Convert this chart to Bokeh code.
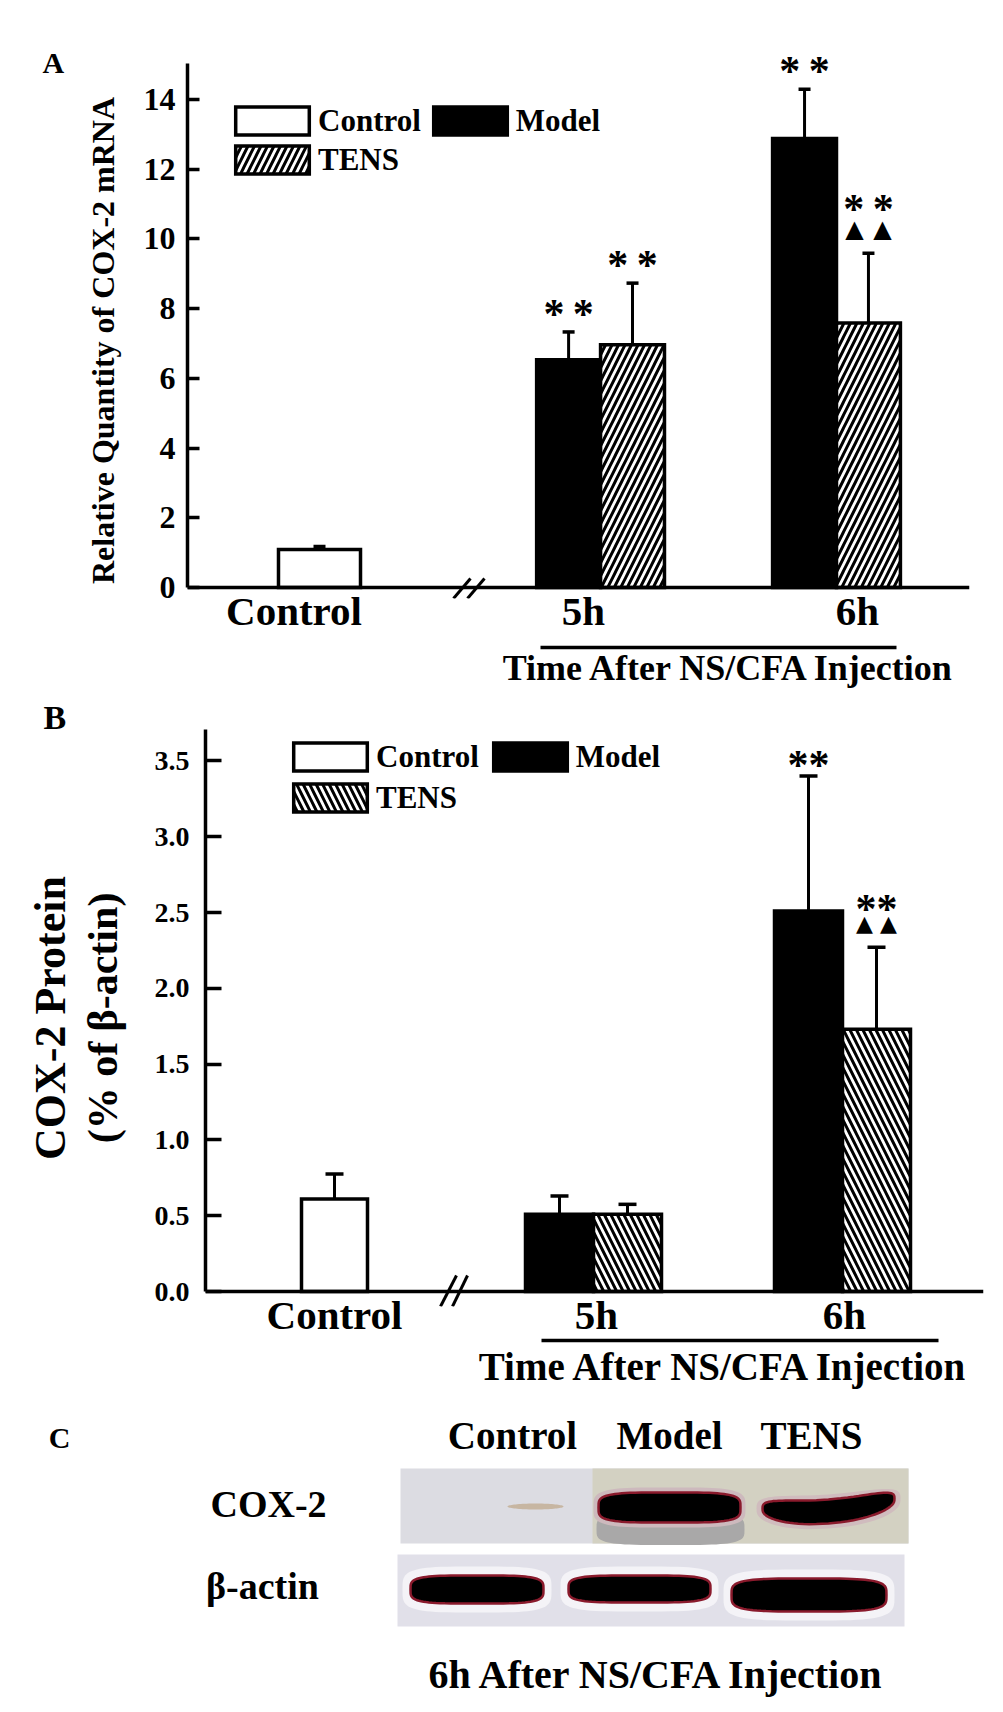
import numpy as np
from bokeh.plotting import figure
from bokeh.models import (Range1d, FixedTicker, PrintfTickFormatter, BasicTickFormatter, Label,
                          Legend, LegendItem, Whisker, TeeHead, ColumnDataSource, Span, LinearAxis)
from bokeh.embed import file_html
from bokeh.resources import INLINE
from bokeh.core.properties import value

# ---------------- data ----------------
groups = ["Control", "5h", "6h"]
series = ["Control", "Model", "TENS"]

# Panel A: relative quantity of COX-2 mRNA (Control; Model/TENS at 5h, 6h)
mrna_control = [1.09]
mrna_control_err = [0.09]
mrna_model = [6.53, 12.88]
mrna_model_err = [0.80, 1.41]
mrna_tens = [6.96, 7.59]
mrna_tens_err = [1.77, 2.00]
mrna_ticks = [0, 2, 4, 6, 8, 10, 12, 14]
mrna_model_sig = ["*\u2009*", "*\u2009*"]
mrna_tens_sig = ["*\u2009*", "*\u2009*"]
mrna_tens_tri = [False, True]

# Panel B: COX-2 protein (% of beta-actin)
prot_control = [0.61]
prot_control_err = [0.165]
prot_model = [0.51, 2.51]
prot_model_err = [0.12, 0.89]
prot_tens = [0.51, 1.73]
prot_tens_err = [0.065, 0.54]
prot_ticks = [0.0, 0.5, 1.0, 1.5, 2.0, 2.5, 3.0, 3.5]
prot_model_sig = ["", "**"]
prot_tens_sig = ["", "**"]
prot_tens_tri = [False, True]

# Panel C: western blot
blot_lanes = ["Control", "Model", "TENS"]
blot_rows = ["COX-2", "\u03b2-actin"]

x_title = "Time After NS/CFA Injection"
FONT = "Liberation Serif"
W = 1003

# ---------------- layout constants (page pixels) ----------------
cfgA = dict(letter="A", letter_font="30px", letter_offset=-145, letter_standoff=-57,
            page_top=0, height=690, frame=(187, 969, 50, 599), axis_top=63, y0_page=588,
            xunit=235.0, yunit=34.93, x0=-0.5617,
            group_pos=[0.0, 1.196, 2.2], label_pos=[-0.1085, 1.123, 2.289], bar_w=0.272, ctrl_w=0.349,
            lw=3.5, tick_in=12, tick_font="32px", tick_standoff=12,
            xlab_font="41px", xlab_standoff=-11, xlab_spacer=7,
            ytitles=[("Relative Quantity of COX-2 mRNA\u2003", "32px", 20, (599, 63))],
            time_font="36px", time_standoff=0, time_x=729, time_line=(540, 896),
            breaks=[((453, 599), (470, 579)), ((467, 599), (484, 579))],
            hatch="right_diagonal_line", hatch_w=3, hatch_s=13, cap=12,
            sig_font="42px", sig_off=-18, sig_off_stack=-44, tri_font="24px", tri_off=-24, tri_dx=14,
            legend_loc=(39, 420.5), legend_spacing=3)
cfgB = dict(letter="B", letter_font="34px", letter_offset=-162, letter_standoff=-13,
            page_top=690, height=710, frame=(205, 983, 729, 1306), axis_top=729, y0_page=1291,
            xunit=250.0, yunit=151.6, x0=-0.516,
            group_pos=[0.0, 1.036, 2.032], label_pos=[0.0, 1.048, 2.04], bar_w=0.272, ctrl_w=0.264,
            lw=3.5, tick_in=16, tick_font="28px", tick_standoff=16,
            xlab_font="41px", xlab_standoff=-15, xlab_spacer=None,
            ytitles=[("(% of \u03b2-actin)", "42px", 26, None), ("COX-2 Protein", "44px", 2, None)],
            time_font="39px", time_standoff=4, time_x=724, time_line=(541, 938),
            breaks=[((440, 1306), (456, 1275)), ((452, 1306), (467, 1275))],
            hatch="left_diagonal_line", hatch_w=3, hatch_s=13, cap=18,
            sig_font="42px", sig_off=-11, sig_off_stack=-38, tri_font="22px", tri_off=-24, tri_dx=12,
            legend_loc=(79, 490.5), legend_spacing=5)


def dx(cfg, px):
    return cfg["x0"] + (px - cfg["frame"][0]) / cfg["xunit"]


def dy(cfg, py):
    return (cfg["y0_page"] - py) / cfg["yunit"]


def style_axis_text(ax):
    ax.major_label_text_font = FONT
    ax.major_label_text_font_style = "bold"
    ax.major_label_text_color = "black"
    ax.axis_label_text_font = FONT
    ax.axis_label_text_font_style = "bold"
    ax.axis_label_text_color = "black"


def make_bar_panel(cfg, ctrl, ctrl_err, model, model_err, tens, tens_err, ticks, fmt,
                   model_sig, tens_sig, tens_tri):
    fl, fr, ft, fb = cfg["frame"]
    top, H = cfg["page_top"], cfg["height"]
    y_lo, y_hi = dy(cfg, fb), dy(cfg, ft)
    y_axis_top = dy(cfg, cfg["axis_top"])
    p = figure(width=W, height=H, output_backend="svg", toolbar_location=None,
               x_range=Range1d(dx(cfg, fl), dx(cfg, fr)), y_range=Range1d(y_lo, y_hi),
               min_border_left=fl, min_border_right=W - fr,
               min_border_top=ft - top, min_border_bottom=top + H - fb,
               title=cfg["letter"])
    p.xgrid.visible = False
    p.ygrid.visible = False
    p.outline_line_color = None
    p.background_fill_color = "white"
    p.border_fill_color = "white"
    p.title.align = "left"
    p.title.offset = cfg["letter_offset"]
    p.title.standoff = cfg["letter_standoff"]
    p.title.text_font = FONT
    p.title.text_font_style = "bold"
    p.title.text_font_size = cfg["letter_font"]
    p.title.text_color = "black"

    gpos = cfg["group_pos"]
    bw, cw = cfg["bar_w"], cfg["ctrl_w"]
    model_x = [g - bw / 2 for g in gpos[1:]]
    tens_x = [g + bw / 2 for g in gpos[1:]]
    lw = cfg["lw"]

    # x-axis line at zero
    p.add_layout(Span(location=0, dimension="width", line_color="black", line_width=lw))

    r_ctrl = p.vbar(x=[gpos[0]], top=ctrl, width=cw, fill_color="white", line_color="black",
                    line_width=lw, line_join="miter")
    r_model = p.vbar(x=model_x, top=model, width=bw, fill_color="black", line_color="black",
                     line_width=lw, line_join="miter")
    r_tens = p.vbar(x=tens_x, top=tens, width=bw, fill_color="white", line_color="black",
                    line_width=lw, line_join="miter", hatch_pattern=cfg["hatch"], hatch_color="black",
                    hatch_weight=cfg["hatch_w"], hatch_scale=cfg["hatch_s"])

    # axis break marks
    for (a, b) in cfg["breaks"]:
        p.segment(x0=[dx(cfg, a[0])], y0=[dy(cfg, a[1])], x1=[dx(cfg, b[0])], y1=[dy(cfg, b[1])],
                  line_color="black", line_width=3)

    # error bars (upper only)
    wx = [gpos[0]] + model_x + tens_x
    lower = list(ctrl) + list(model) + list(tens)
    errs = list(ctrl_err) + list(model_err) + list(tens_err)
    upper = [v + e for v, e in zip(lower, errs)]
    wsrc = ColumnDataSource(dict(x=wx, lower=lower, upper=upper))
    p.add_layout(Whisker(source=wsrc, base="x", lower="lower", upper="upper", dimension="height",
                         line_width=3, line_color="black", lower_head=None,
                         upper_head=TeeHead(size=cfg["cap"], line_width=3.5, line_color="black"),
                         level="glyph"))

    # significance marks
    n = len(model)
    sx, sy, st, so = [], [], [], []
    for i in range(n):
        if model_sig[i]:
            sx.append(model_x[i]); sy.append(model[i] + model_err[i]); st.append(model_sig[i])
            so.append(cfg["sig_off"])
        if tens_sig[i]:
            sx.append(tens_x[i]); sy.append(tens[i] + tens_err[i]); st.append(tens_sig[i])
            so.append(cfg["sig_off_stack"] if tens_tri[i] else cfg["sig_off"])
    ssrc = ColumnDataSource(dict(x=sx, y=sy, text=st, yo=so))
    p.text(x="x", y="y", text="text", y_offset="yo", source=ssrc, text_align="center",
           text_baseline="alphabetic", text_font=value(FONT), text_font_style="bold",
           text_font_size=cfg["sig_font"], text_color="black")
    tx = [tens_x[i] for i in range(n) if tens_tri[i]]
    ty = [tens[i] + tens_err[i] for i in range(n) if tens_tri[i]]
    for ox in (-cfg["tri_dx"], cfg["tri_dx"]):
        p.text(x=tx, y=ty, text=["\u25b2"] * len(tx), x_offset=ox, y_offset=cfg["tri_off"],
               text_align="center", text_baseline="alphabetic", text_font=value("DejaVu Sans"),
               text_font_size=cfg["tri_font"], text_color="black")

    # y axis
    yax = p.yaxis[0]
    yax.ticker = FixedTicker(ticks=ticks)
    yax.formatter = fmt
    yax.bounds = (0, y_axis_top)
    yax.major_tick_in = cfg["tick_in"]
    yax.major_tick_out = 0
    yax.minor_tick_line_color = None
    yax.axis_line_width = lw
    yax.major_tick_line_width = lw
    style_axis_text(yax)
    yax.major_label_text_font_size = cfg["tick_font"]
    yax.major_label_standoff = cfg["tick_standoff"]

    # y titles (inner one on the main axis, others on extra axes)
    for k, (txt, size, standoff, bnd) in enumerate(cfg["ytitles"]):
        if k == 0 and bnd is None:
            ax = yax
        else:
            ax = LinearAxis(ticker=FixedTicker(ticks=[]), axis_line_color=None,
                            major_tick_line_color=None, minor_tick_line_color=None,
                            major_tick_in=0, major_tick_out=0, major_label_standoff=0)
            ax.bounds = (dy(cfg, bnd[0]), dy(cfg, bnd[1])) if bnd else (0, y_axis_top)
            p.add_layout(ax, "left")
        style_axis_text(ax)
        ax.axis_label = txt
        ax.axis_label_text_font_size = size
        ax.axis_label_standoff = standoff

    # x axis (labels only; line drawn by the span at zero)
    xax = p.xaxis[0]
    xax.ticker = FixedTicker(ticks=cfg["label_pos"])
    xax.major_label_overrides = {pos: g for pos, g in zip(cfg["label_pos"], groups)}
    xax.axis_line_color = None
    xax.major_tick_line_color = None
    xax.minor_tick_line_color = None
    xax.major_tick_in = 0
    xax.major_tick_out = 0
    style_axis_text(xax)
    xax.major_label_text_font_size = cfg["xlab_font"]
    xax.major_label_standoff = cfg["xlab_standoff"]
    if cfg["xlab_spacer"] is not None:
        xax.axis_label = "\u00a0"
        xax.axis_label_text_font_size = "1px"
        xax.axis_label_standoff = cfg["xlab_spacer"]

    # time axis: underline + caption
    tpos = dx(cfg, cfg["time_x"])
    tax = LinearAxis(ticker=FixedTicker(ticks=[tpos]), major_label_overrides={tpos: x_title},
                     major_tick_line_color=None, minor_tick_line_color=None,
                     major_tick_in=0, major_tick_out=0,
                     axis_line_width=lw, axis_line_color="black",
                     major_label_standoff=cfg["time_standoff"])
    tax.bounds = (dx(cfg, cfg["time_line"][0]), dx(cfg, cfg["time_line"][1]))
    style_axis_text(tax)
    tax.major_label_text_font_size = cfg["time_font"]
    p.add_layout(tax, "below")

    # legend
    legend = Legend(items=[LegendItem(label=series[0], renderers=[r_ctrl]),
                           LegendItem(label=series[1], renderers=[r_model]),
                           LegendItem(label=series[2], renderers=[r_tens])],
                    orientation="horizontal", ncols=2, location=cfg["legend_loc"],
                    glyph_width=92, glyph_height=35, label_height=35, label_standoff=0,
                    spacing=cfg["legend_spacing"], padding=0, margin=0,
                    border_line_color=None, background_fill_alpha=0,
                    label_text_font=FONT, label_text_font_style="bold", label_text_font_size="31px",
                    label_text_line_height=1.0, label_text_color="black")
    p.add_layout(legend, "center")
    return p


pA = make_bar_panel(cfgA, mrna_control, mrna_control_err, mrna_model, mrna_model_err, mrna_tens,
                    mrna_tens_err, mrna_ticks, BasicTickFormatter(), mrna_model_sig, mrna_tens_sig,
                    mrna_tens_tri)
pB = make_bar_panel(cfgB, prot_control, prot_control_err, prot_model, prot_model_err, prot_tens,
                    prot_tens_err, prot_ticks, PrintfTickFormatter(format="%.1f"), prot_model_sig,
                    prot_tens_sig, prot_tens_tri)

# ---------------- Panel C: blot ----------------
CT = 1400
CH = 312
pC = figure(width=W, height=CH, output_backend="svg", toolbar_location=None,
            x_range=Range1d(0, W), y_range=Range1d(CH, 0), min_border=0,
            x_axis_type=None, y_axis_type=None)
pC.xgrid.visible = False
pC.ygrid.visible = False
pC.outline_line_color = None
pC.background_fill_color = "white"
pC.border_fill_color = "white"


def P(px, py):
    return px, py - CT


def blob(cx, cy, hw, hh, n=4.0, k=80, dip=0.0, tilt=0.0):
    t = np.linspace(0, 2 * np.pi, k, endpoint=False)
    c, s = np.cos(t), np.sin(t)
    u = np.sign(c) * np.abs(c) ** (2 / n)
    xs = cx + hw * u
    ys = cy + hh * np.sign(s) * np.abs(s) ** (2 / n) + dip * (1 - u ** 2) + tilt * u
    return list(xs), list(ys)


# blot backgrounds (page coords)
x1, y1 = P(400, 1468); x2, y2 = P(908, 1543)
pC.quad(left=x1, right=x2, top=y1, bottom=y2, fill_color="#dcdce2", line_color=None)
xm, _ = P(592, CT)
pC.quad(left=xm, right=x2, top=y1, bottom=y2, fill_color="#d3d1c2", line_color=None)
x1b, y1b = P(397, 1554); x2b, y2b = P(904, 1626)
pC.quad(left=x1b, right=x2b, top=y1b, bottom=y2b, fill_color="#e1e0e9", line_color=None)

# COX-2 lanes
cx, cy = P(535, 1506)
xs, ys = blob(cx, cy, 28, 3, n=2)
pC.patch(xs, ys, fill_color="#c7b6a2", line_color=None)
sx0, sy0 = P(600, 1518); sx1, sy1 = P(740, 1543)
xs, ys = blob((sx0 + sx1) / 2, (sy0 + sy1) / 2 - 2, 74, 16, n=4)
pC.patch(xs, ys, fill_color="#a9a8a8", line_color=None)
cx, cy = P(669, 1507)
xs, ys = blob(cx, cy, 76, 20, n=4)
pC.patch(xs, ys, fill_color="#cdb9bd", line_color=None)
xs, ys = blob(cx, cy, 71, 15, n=4)
pC.patch(xs, ys, fill_color="black", line_color="#8a1a2c", line_width=2.5)
cx, cy = P(828, 1503)
xs, ys = blob(cx, cy, 72, 17, n=3, dip=8, tilt=-5)
pC.patch(xs, ys, fill_color="#d0bcbe", line_color=None)
xs, ys = blob(cx, cy, 66, 12, n=3, dip=8, tilt=-5)
pC.patch(xs, ys, fill_color="black", line_color="#8a1a2c", line_width=2.5)

# beta-actin lanes
for (px, py, hw, hh) in [(476.5, 1589, 66.5, 14), (639, 1588.5, 71, 13.5), (808.5, 1594.5, 77.5, 16.5)]:
    cx, cy = P(px, py)
    xs, ys = blob(cx, cy, hw + 8, hh + 9, n=4)
    pC.patch(xs, ys, fill_color="#f4f3f7", line_color=None)
    xs, ys = blob(cx, cy, hw, hh, n=4)
    pC.patch(xs, ys, fill_color="black", line_color="#8a1a2c", line_width=2.5)


def labC(px, py, text, size):
    x, y = P(px, py)
    pC.add_layout(Label(x=x, y=y, text=text, text_align="center", text_baseline="middle",
                        text_font=FONT, text_font_style="bold", text_font_size=size, text_color="black"))


labC(59, 1437, "C", "30px")
for lane, px in zip(blot_lanes, [512, 669, 811]):
    labC(px, 1435, lane, "39px")
labC(268, 1503, blot_rows[0], "38px")
labC(262, 1585, blot_rows[1], "38px")
labC(657, 1674, "6h After NS/CFA Injection", "40px")

open("out.html", "w").write(file_html([pA, pB, pC], INLINE))
